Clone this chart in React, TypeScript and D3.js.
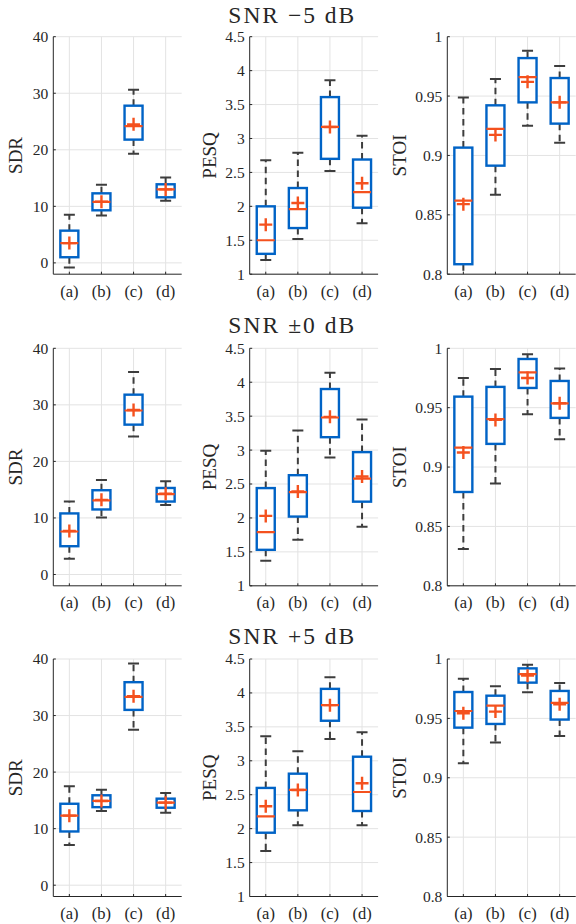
import React from "react";
import * as d3 from "d3";

// ---- data ----
const categories = ["(a)", "(b)", "(c)", "(d)"];
const titles = ["SNR \u22125 dB", "SNR \u00b10 dB", "SNR +5 dB"];
const metrics = ["SDR", "PESQ", "STOI"];
const sdrTicks = [0, 10, 20, 30, 40];
const pesqTicks = [1, 1.5, 2, 2.5, 3, 3.5, 4, 4.5];
const stoiTicks = [0.8, 0.85, 0.9, 0.95, 1];

// each row: [lowerWhisker, q1, median, q3, upperWhisker, mean]
const sdrM5 = [
  [-0.8, 1.0, 3.5, 5.7, 8.5, 3.5],
  [8.4, 9.3, 10.8, 12.3, 13.8, 10.8],
  [19.3, 21.8, 24.2, 27.8, 30.6, 24.5],
  [11.0, 11.6, 13.0, 13.9, 15.1, 13.0],
];
const pesqM5 = [
  [1.21, 1.3, 1.5, 2.0, 2.68, 1.73],
  [1.52, 1.68, 1.96, 2.27, 2.79, 2.05],
  [2.52, 2.7, 3.17, 3.61, 3.86, 3.17],
  [1.75, 1.98, 2.21, 2.69, 3.04, 2.34],
];
const stoiM5 = [
  [0.79, 0.8084, 0.862, 0.9066, 0.9487, 0.859],
  [0.867, 0.8914, 0.9223, 0.9422, 0.9644, 0.9173],
  [0.925, 0.9447, 0.966, 0.982, 0.9882, 0.962],
  [0.9108, 0.9268, 0.9447, 0.9652, 0.9753, 0.9447],
];
const sdr0 = [
  [2.8, 5.0, 7.6, 10.8, 12.9, 7.7],
  [10.1, 11.5, 13.1, 14.9, 16.7, 13.2],
  [24.4, 26.5, 29.0, 31.8, 35.8, 29.1],
  [12.3, 12.9, 14.2, 15.3, 16.5, 14.3],
];
const pesq0 = [
  [1.37, 1.53, 1.79, 2.44, 2.99, 2.03],
  [1.68, 2.02, 2.38, 2.63, 3.29, 2.39],
  [2.89, 3.19, 3.48, 3.9, 4.14, 3.49],
  [1.87, 2.24, 2.58, 2.97, 3.45, 2.61],
];
const stoi0 = [
  [0.8309, 0.879, 0.9164, 0.9593, 0.975, 0.9122],
  [0.8861, 0.9195, 0.9403, 0.9675, 0.9826, 0.9397],
  [0.9445, 0.9666, 0.9798, 0.991, 0.995, 0.975],
  [0.9234, 0.9414, 0.9537, 0.9725, 0.9829, 0.9537],
];
const sdrP5 = [
  [7.1, 9.5, 12.3, 14.4, 17.5, 12.3],
  [13.1, 13.8, 14.9, 15.9, 16.9, 14.9],
  [27.5, 31.0, 33.3, 35.9, 39.2, 33.4],
  [12.8, 13.7, 14.6, 15.3, 16.3, 14.6],
];
const pesqP5 = [
  [1.67, 1.94, 2.18, 2.6, 3.36, 2.33],
  [2.05, 2.27, 2.57, 2.81, 3.14, 2.57],
  [3.32, 3.59, 3.82, 4.06, 4.23, 3.82],
  [2.05, 2.26, 2.54, 3.06, 3.42, 2.67],
];
const stoiP5 = [
  [0.9122, 0.9422, 0.9562, 0.9722, 0.9834, 0.9543],
  [0.9296, 0.9453, 0.9607, 0.9691, 0.977, 0.9557],
  [0.972, 0.9801, 0.9873, 0.9921, 0.9952, 0.986],
  [0.9352, 0.949, 0.963, 0.9731, 0.9798, 0.9618],
];

const panelData = [
  [sdrM5, pesqM5, stoiM5],
  [sdr0, pesq0, stoi0],
  [sdrP5, pesqP5, stoiP5],
];
const yDomains = [[-2, 40], [1, 4.5], [0.8, 1]];
const yTicks = [sdrTicks, pesqTicks, stoiTicks];

// ---- layout ----
const W = 576;
const H = 924;
const rowTop = [36.7, 348.3, 659];
const panelH = 237.5;
const colLeft = [53.3, 249.7, 447.3];
const panelW = 128.4;
const yLabelX = [16, 210, 399.5];
const titleBase = [23, 333, 644];

const BLUE = "#0063c6";
const RED = "#f4511e";
const WHISK = "#3d3d3d";
const AXIS = "#262626";
const GRID = "#e3e3e3";
const FONT = "Liberation Serif";

function fmt(v: number) {
  return String(+v.toFixed(2));
}

function Panel({ r, c }: { r: number; c: number }) {
  const left = colLeft[c];
  const top = rowTop[r];
  const bottom = top + panelH;
  const right = left + panelW;
  const x = d3.scaleLinear().domain([0.5, 4.5]).range([left, right]);
  const y = d3.scaleLinear().domain(yDomains[c]).range([bottom, top]);
  const data = panelData[r][c];
  const id = `clip-${r}-${c}`;
  const bw = 9;
  const cw = 5.5;
  const pm = 6.5;
  return (
    <g>
      <defs>
        <clipPath id={id}>
          <rect x={left} y={top} width={panelW} height={panelH} />
        </clipPath>
      </defs>
      {yTicks[c].map((t) => (
        <line key={"gy" + t} x1={left} x2={right} y1={y(t)} y2={y(t)} stroke={GRID} strokeWidth={1} />
      ))}
      {categories.map((_, i) => (
        <line key={"gx" + i} x1={x(i + 1)} x2={x(i + 1)} y1={top} y2={bottom} stroke={GRID} strokeWidth={1} />
      ))}
      <g clipPath={`url(#${id})`}>
        {data.map((d, i) => {
          const cx = x(i + 1);
          const [lo, q1, med, q3, hi, mean] = d;
          return (
            <g key={"b" + i}>
              <line x1={cx} x2={cx} y1={y(q3)} y2={y(hi)} stroke={WHISK} strokeWidth={2} strokeDasharray="6.5,4.5" />
              <line x1={cx} x2={cx} y1={y(q1)} y2={y(lo)} stroke={WHISK} strokeWidth={2} strokeDasharray="6.5,4.5" />
              <line x1={cx - cw} x2={cx + cw} y1={y(hi)} y2={y(hi)} stroke={WHISK} strokeWidth={2} />
              <line x1={cx - cw} x2={cx + cw} y1={y(lo)} y2={y(lo)} stroke={WHISK} strokeWidth={2} />
              <rect x={cx - bw} y={y(q3)} width={2 * bw} height={y(q1) - y(q3)} fill="white" stroke={BLUE} strokeWidth={2.4} />
              <line x1={cx - bw} x2={cx + bw} y1={y(med)} y2={y(med)} stroke={RED} strokeWidth={2.2} />
              <line x1={cx - pm} x2={cx + pm} y1={y(mean)} y2={y(mean)} stroke={RED} strokeWidth={2.4} />
              <line x1={cx} x2={cx} y1={y(mean) - pm} y2={y(mean) + pm} stroke={RED} strokeWidth={2.4} />
            </g>
          );
        })}
      </g>
      <line x1={left} x2={right} y1={bottom} y2={bottom} stroke={AXIS} strokeWidth={1} />
      <line x1={left} x2={left} y1={top} y2={bottom} stroke={AXIS} strokeWidth={1} />
      {yTicks[c].map((t) => (
        <g key={"ty" + t}>
          <line x1={left} x2={left + 2.5} y1={y(t)} y2={y(t)} stroke={AXIS} strokeWidth={1} />
          <text x={left - 5} y={y(t)} dy="0.35em" textAnchor="end" fontSize={15.5} fill={AXIS} fontFamily={FONT}>
            {fmt(t)}
          </text>
        </g>
      ))}
      {categories.map((cat, i) => (
        <g key={"tx" + i}>
          <line x1={x(i + 1)} x2={x(i + 1)} y1={bottom} y2={bottom - 2.5} stroke={AXIS} strokeWidth={1} />
          <text x={x(i + 1)} y={bottom + 22.5} textAnchor="middle" fontSize={16.5} fill={AXIS} fontFamily={FONT}>
            {cat}
          </text>
        </g>
      ))}
      <text
        transform={`translate(${yLabelX[c] + 6},${(top + bottom) / 2}) rotate(-90)`}
        textAnchor="middle"
        fontSize={19}
        fill={AXIS}
        fontFamily={FONT}
      >
        {metrics[c]}
      </text>
    </g>
  );
}

export default function App() {
  return (
    <svg width={W} height={H} style={{ position: "absolute", left: 0, top: 0, background: "white" }}>
      <rect x={0} y={0} width={W} height={H} fill="white" />
      {titles.map((t, r) => (
        <text key={t} x={291.3} y={titleBase[r]} textAnchor="middle" fontSize={23.5} fill={AXIS} fontFamily={FONT} textLength={126}>
          {t}
        </text>
      ))}
      {[0, 1, 2].map((r) => [0, 1, 2].map((c) => <Panel key={`${r}-${c}`} r={r} c={c} />))}
    </svg>
  );
}
